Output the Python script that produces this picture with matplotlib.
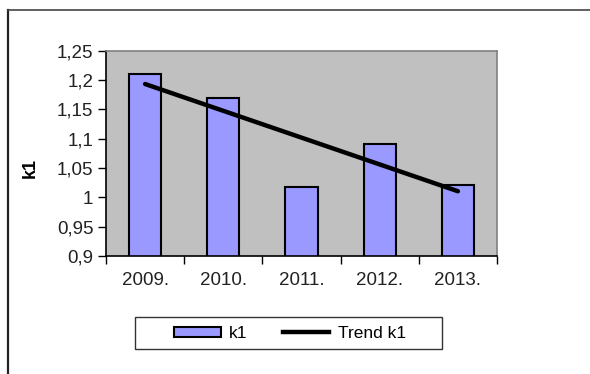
import numpy as np
import matplotlib
matplotlib.use("Agg")
import matplotlib.pyplot as plt
from matplotlib.lines import Line2D
from matplotlib.patches import Patch, Rectangle

years = ["2009.", "2010.", "2011.", "2012.", "2013."]
k1 = [1.21, 1.17, 1.017, 1.091, 1.021]
yticks = [0.9, 0.95, 1.0, 1.05, 1.1, 1.15, 1.2, 1.25]
ytick_labels = ["0,9", "0,95", "1", "1,05", "1,1", "1,15", "1,2", "1,25"]

plt.rcParams['font.family'] = ['Liberation Sans', 'DejaVu Sans']

W, H = 590, 374
fig = plt.figure(figsize=(W / 100, H / 100), dpi=100)
fig.patch.set_facecolor("white")

# outer border (top and left visible)
fig.add_artist(Line2D([7.5 / W, 7.5 / W], [0, 1 - 10 / H], transform=fig.transFigure,
                      color="#222222", lw=1.6))
fig.add_artist(Line2D([7.5 / W, 1], [1 - 10 / H, 1 - 10 / H], transform=fig.transFigure,
                      color="#444444", lw=1.2))

left, right, top, bottom = 106, 497, 50.7, 256
ax = fig.add_axes([left / W, 1 - bottom / H, (right - left) / W, (bottom - top) / H])
ax.set_facecolor("#C0C0C0")

x = np.arange(1, len(years) + 1)
ax.bar(x, k1, width=0.41, bottom=0, color="#9999FF", edgecolor="black", linewidth=1.5, zorder=2)

coef = np.polyfit(x, k1, 1)
trend = np.polyval(coef, x)
ax.plot(x, trend, color="black", lw=3.2, solid_capstyle="round", zorder=3)

fs = 13.5
ax.set_xlim(0.5, len(years) + 0.5)
ax.set_ylim(0.9, 1.25)
ax.set_yticks(yticks)
ax.set_yticklabels(ytick_labels, fontsize=fs, color="#222222")
ax.set_xticks(np.arange(0.5, len(years) + 1, 1))
ax.set_xticklabels([])
ax.set_xticks(x, minor=True)
ax.set_xticklabels(years, minor=True, fontsize=fs, color="#222222")
ax.tick_params(axis="x", which="minor", length=0, pad=11.5)
ax.tick_params(axis="x", which="major", length=6, width=1, direction="out")
ax.tick_params(axis="y", length=6, width=1, direction="out", pad=3)

for s in ["left", "bottom"]:
    ax.spines[s].set_color("black")
    ax.spines[s].set_linewidth(1.2)
for s in ["top", "right"]:
    ax.spines[s].set_color("#808080")
    ax.spines[s].set_linewidth(1.2)

ax.set_ylabel("k1", fontsize=13, fontweight="bold")
ax.yaxis.set_label_coords(-0.172, 0.43)

# legend box
bx0, bx1, by0, by1 = 135, 442, 317, 349
fig.add_artist(Rectangle((bx0 / W, 1 - by1 / H), (bx1 - bx0) / W, (by1 - by0) / H,
                         transform=fig.transFigure, facecolor="white",
                         edgecolor="#333333", lw=1.0))
handles = [Patch(facecolor="#9999FF", edgecolor="black", linewidth=1.5),
           Line2D([0], [0], color="black", lw=3.2)]
leg = fig.legend(handles, ["k1", "Trend k1"], loc="center",
                 bbox_to_anchor=(290 / W, 1 - 333.5 / H), ncol=2, fontsize=12.5,
                 frameon=False, handlelength=2.7, handleheight=0.55,
                 columnspacing=2.0, handletextpad=0.5, borderpad=0.3)

fig.savefig("out.png", dpi=100)
